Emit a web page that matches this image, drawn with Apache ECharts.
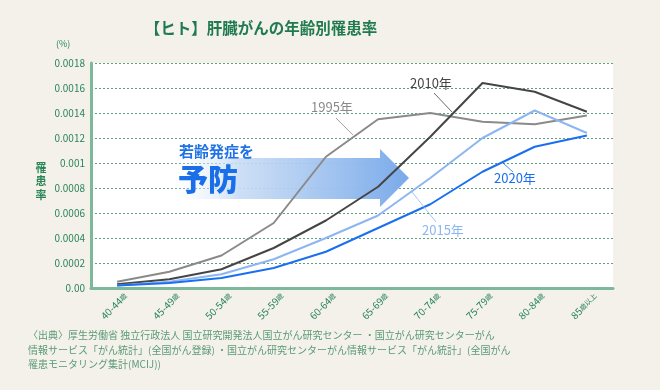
<!DOCTYPE html>
<html><head><meta charset="utf-8">
<script src="https://cdn.jsdelivr.net/npm/echarts@6/dist/echarts.min.js"></script>
<style>html,body{margin:0;padding:0;background:#f4f1ea;}#c{width:660px;height:390px;}</style>
</head><body><div id="c"></div>
<script>
const categories = ['40-44歳','45-49歳','50-54歳','55-59歳','60-64歳','65-69歳','70-74歳','75-79歳','80-84歳','85歳以上'];
const yTicks = [0,0.0002,0.0004,0.0006,0.0008,0.001,0.0012,0.0014,0.0016,0.0018];
const s1995 = [0.00005,0.00013,0.00026,0.00052,0.00105,0.00135,0.00140,0.00133,0.00131,0.00138];
const s2010 = [0.00003,0.00007,0.00015,0.00032,0.00054,0.00081,0.00121,0.00164,0.00157,0.00141];
const s2015 = [0.00002,0.00005,0.00011,0.00023,0.00040,0.00058,0.00088,0.00120,0.00142,0.00124];
const s2020 = [0.00002,0.00004,0.00008,0.00016,0.00029,0.00048,0.00067,0.00093,0.00113,0.00122];
const seriesNames = ['1995年','2010年','2015年','2020年'];
const colors = ['#8a8a8a','#454545','#8cb6f2','#1a6ff0'];

const green = '#2a8558';
const chart = echarts.init(document.getElementById('c'));
const font = '"Noto Sans CJK JP","Noto Sans",sans-serif';
function mk(name, data, color){
  return {name, type:'line', data, symbol:'none', smooth:false, z:5,
    lineStyle:{color, width:2}, itemStyle:{color}};
}
chart.setOption({
  backgroundColor:'#f4f1ea',
  textStyle:{fontFamily:font},
  animation:false,
  grid:{left:91,top:63,right:47,bottom:102,show:true,backgroundColor:'#ffffff',borderWidth:0},
  xAxis:{type:'category',data:categories,boundaryGap:true,
    axisLine:{lineStyle:{color:'#7db89b',width:3}},
    axisTick:{show:false},
    axisLabel:{rotate:45,margin:15,fontSize:10,color:green,interval:0,padding:[0,-12,0,0],
      formatter:v=>{const m=v.match(/^(\d+(?:-\d+)?)(.*)$/);return '{a|'+m[1]+'}{b|'+m[2]+'}';},
      rich:{a:{fontSize:10,color:green,fontFamily:font},b:{fontSize:7,color:green,fontFamily:font}}}
  },
  yAxis:{type:'value',min:0,max:yTicks[yTicks.length-1],interval:0.0002,
    axisLine:{show:true,lineStyle:{color:'#7db89b',width:3}},
    axisTick:{show:false},
    axisLabel:{fontSize:10,color:green,margin:6,
      formatter:v=>v===0?'0.00':String(parseFloat(v.toFixed(4)))},
    splitLine:{lineStyle:{color:'#5f9f80',type:[2,2],width:1}}
  },
  series:[mk(seriesNames[0],s1995,colors[0]),mk(seriesNames[1],s2010,colors[1]),mk(seriesNames[2],s2015,colors[2]),mk(seriesNames[3],s2020,colors[3])],
  graphic:[
    {type:'text',x:261,y:20,style:{text:'【ヒト】肝臓がんの年齢別罹患率',font:'bold 15.5px '+font,fill:'#1f7a4f',textAlign:'center'}},
    {type:'text',x:56,y:39,style:{text:'(%)',font:'9px '+font,fill:green}},
    {type:'text',x:41,y:161,style:{text:'罹\n患\n率',font:'bold 11px '+font,fill:green,lineHeight:13.5,textAlign:'center'}},
    {type:'polygon',z:3,shape:{points:[[165,158],[380,158],[380,149],[409,178],[380,207],[380,199],[165,199]]},
      style:{fill:new echarts.graphic.LinearGradient(0,0,1,0,[{offset:0,color:'rgba(255,255,255,0)'},{offset:0.3,color:'rgba(200,220,245,0.9)'},{offset:1,color:'#7aaaea'}])}},
    {type:'text',z:10,x:179,y:144,style:{text:'若齢発症を',font:'bold 15px '+font,fill:'#1f72e6'}},
    {type:'text',z:10,x:178,y:164,style:{text:'予防',font:'900 30px '+font,fill:'#1a6fe8'}},
    {type:'text',z:10,x:311,y:101,style:{text:'1995年',font:'13px '+font,fill:'#8a8a8a'}},
    {type:'line',z:10,shape:{x1:336,y1:118,x2:353,y2:135},style:{stroke:'#8a8a8a',lineWidth:0.8}},
    {type:'text',z:10,x:410,y:77,style:{text:'2010年',font:'13px '+font,fill:'#454545'}},
    {type:'line',z:10,shape:{x1:434,y1:93,x2:452,y2:112},style:{stroke:'#454545',lineWidth:0.8}},
    {type:'text',z:10,x:494,y:172,style:{text:'2020年',font:'13px '+font,fill:'#1a6ff0'}},
    {type:'line',z:10,shape:{x1:503,y1:163,x2:513,y2:172},style:{stroke:'#1a6ff0',lineWidth:0.8}},
    {type:'text',z:10,x:422,y:224,style:{text:'2015年',font:'13px '+font,fill:'#8cb6f2'}},
    {type:'line',z:10,shape:{x1:412,y1:192,x2:436,y2:222},style:{stroke:'#8cb6f2',lineWidth:0.8}},
    {type:'text',x:28,y:328,style:{text:'〈出典〉厚生労働省 独立行政法人 国立研究開発法人国立がん研究センター ・国立がん研究センターがん\n情報サービス「がん統計」(全国がん登録) ・国立がん研究センターがん情報サービス「がん統計」(全国がん\n罹患モニタリング集計(MCIJ))',font:'10px '+font,fill:'#5a9a76',lineHeight:14.5}}
  ]
});
</script></body></html>
